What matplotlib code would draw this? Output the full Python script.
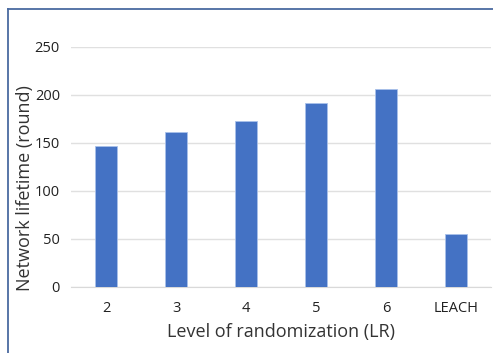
import matplotlib
matplotlib.use("Agg")
import matplotlib.pyplot as plt
from matplotlib.lines import Line2D

categories = ["2", "3", "4", "5", "6", "LEACH"]
lifetime = [147, 161, 173, 192, 206, 55]
yticks = [0, 50, 100, 150, 200, 250]

plt.rcParams['font.family'] = ['Open Sans', 'DejaVu Sans']

fig = plt.figure(figsize=(4.93, 3.53), dpi=100)
ax = fig.add_axes([0.144, 0.187, 0.852, 0.68])

x = list(range(len(categories)))
ax.bar(x, lifetime, width=0.31, color="#4472C4", edgecolor="#a9c1ea", linewidth=0.6, zorder=3)

ax.set_xlim(-0.5, len(categories) - 0.5)
ax.set_ylim(0, 250)
ax.set_yticks(yticks)
ax.set_xticks(x)
ax.set_xticklabels(categories)
ax.grid(axis="y", color="#e0e0e0", linewidth=1, zorder=0)
for s in ["top", "right", "left"]:
    ax.spines[s].set_visible(False)
ax.spines["bottom"].set_color("#d9d9d9")
ax.tick_params(axis="both", length=0, labelsize=10.5, colors="#222222")
ax.tick_params(axis="x", pad=10)
ax.tick_params(axis="y", pad=8)
ax.set_xlabel("Level of randomization (LR)", fontsize=13, color="#333333", labelpad=5)
fig.text(25 / 493, 1 - 188 / 353, "Network lifetime (round)", rotation=90, fontsize=13,
         color="#333333", ha="center", va="center")

# outer frame
fig.add_artist(Line2D([7.5 / 493, 7.5 / 493], [0, 1 - 8.5 / 353], transform=fig.transFigure, color="#4a6aa0", linewidth=1.3))
fig.add_artist(Line2D([7.5 / 493, 1], [1 - 8.5 / 353, 1 - 8.5 / 353], transform=fig.transFigure, color="#4a6aa0", linewidth=1.3))

fig.savefig("out.png", dpi=100)
